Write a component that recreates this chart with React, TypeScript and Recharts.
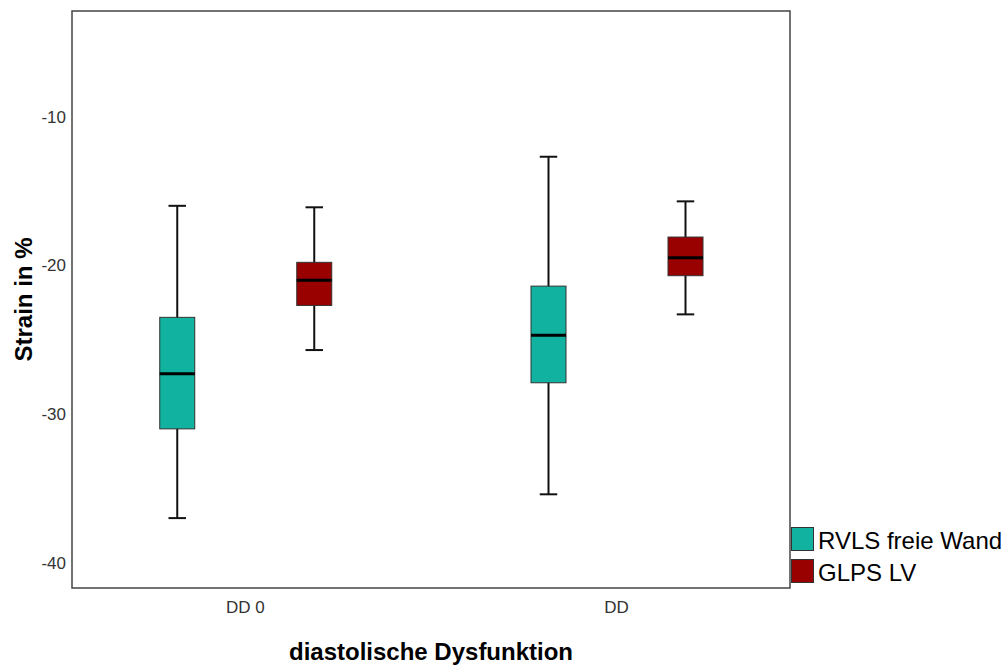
import React from 'react';
import { ComposedChart, Bar, XAxis, YAxis, ReferenceArea, Legend } from 'recharts';

const categories = ['DD 0', 'DD'];
const positions = [1, 2];
const seriesNames = ['RVLS freie Wand', 'GLPS LV'];

// RVLS freie Wand
const rvlsMin = [-37.0, -35.4];
const rvlsQ1 = [-31.0, -27.9];
const rvlsMedian = [-27.3, -24.7];
const rvlsQ3 = [-23.5, -21.4];
const rvlsMax = [-16.0, -12.7];

// GLPS LV
const glpsMin = [-25.7, -23.3];
const glpsQ1 = [-22.7, -20.7];
const glpsMedian = [-21.0, -19.5];
const glpsQ3 = [-19.8, -18.1];
const glpsMax = [-16.1, -15.7];

const yTicks = [-40, -30, -20, -10];
const yDomain = [-41.7, -2.9];
const xDomain = [0.533, 2.467];

const data = positions.map((pos, i) => ({
  pos,
  label: categories[i],
  rvls: { min: rvlsMin[i], q1: rvlsQ1[i], median: rvlsMedian[i], q3: rvlsQ3[i], max: rvlsMax[i] },
  glps: { min: glpsMin[i], q1: glpsQ1[i], median: glpsMedian[i], q3: glpsQ3[i], max: glpsMax[i] },
}));

const narrowFont = "'Liberation Sans Narrow', 'Arial Narrow', 'Liberation Sans', Arial, sans-serif";
const mainFont = "'Liberation Sans', Arial, sans-serif";

// box + whiskers; the bar itself spans q1..q3, the rest is placed on the same linear scale
const makeBoxShape = (key: 'rvls' | 'glps') => (props: any) => {
  const { x, y, width, height, payload, fill } = props;
  const s = payload[key];
  const unit = height / (s.q3 - s.q1);
  const toY = (v: number) => y + (s.q3 - v) * unit;
  const cx = x + width / 2;
  const cap = width / 4;
  return (
    <g>
      <line x1={cx} x2={cx} y1={toY(s.max)} y2={toY(s.min)} stroke="#111" strokeWidth={2} />
      <line x1={cx - cap} x2={cx + cap} y1={toY(s.max)} y2={toY(s.max)} stroke="#111" strokeWidth={2} />
      <line x1={cx - cap} x2={cx + cap} y1={toY(s.min)} y2={toY(s.min)} stroke="#111" strokeWidth={2} />
      <rect x={x} y={y} width={width} height={height} fill={fill} stroke="#333" strokeWidth={1} />
      <line x1={x} x2={x + width} y1={toY(s.median)} y2={toY(s.median)} stroke="#000" strokeWidth={3} />
    </g>
  );
};

const renderLegend = (props: any) => {
  const items = [...(props.payload || [])].sort(
    (a: any, b: any) => seriesNames.indexOf(a.value) - seriesNames.indexOf(b.value)
  );
  return (
    <div style={{ fontFamily: mainFont }}>
      {items.map((entry: any) => (
        <div key={entry.value} style={{ display: 'flex', alignItems: 'flex-start', height: 32 }}>
          <span
            style={{
              width: 23,
              height: 24,
              background: entry.color,
              border: '1px solid #333',
              boxSizing: 'border-box',
              marginRight: 4,
              flexShrink: 0,
            }}
          />
          <span style={{ fontSize: 24, lineHeight: '24px', color: '#000', paddingTop: 2, whiteSpace: 'nowrap' }}>
            {entry.value}
          </span>
        </div>
      ))}
    </div>
  );
};

export default function App() {
  return (
    <div style={{ position: 'absolute', left: 0, top: 0, width: 1003, height: 666, background: '#fff' }}>
      <ComposedChart
        width={1003}
        height={666}
        data={data}
        margin={{ top: 11, right: 213, bottom: 0, left: 0 }}
        barSize={35}
        barGap={102}
      >
        <XAxis
          dataKey="pos"
          type="number"
          domain={xDomain}
          ticks={positions}
          tickFormatter={(v: number) => categories[v - 1]}
          axisLine={false}
          tickLine={false}
          tickSize={6}
          tickMargin={7}
          height={78}
          tick={{ fill: '#333', fontSize: 17, fontFamily: narrowFont }}
          label={{
            value: 'diastolische Dysfunktion',
            position: 'insideBottom',
            offset: 6,
            style: { fontWeight: 'bold', fontSize: 24, fill: '#000', fontFamily: mainFont },
          }}
        />
        <YAxis
          type="number"
          domain={yDomain}
          ticks={yTicks}
          width={72}
          axisLine={false}
          tickLine={false}
          tickSize={4}
          tickMargin={2}
          tick={{ fill: '#333', fontSize: 17, fontFamily: narrowFont }}
          label={{
            value: 'Strain in %',
            angle: -90,
            position: 'insideLeft',
            offset: 23,
            style: { textAnchor: 'middle', fontWeight: 'bold', fontSize: 24, fill: '#000', fontFamily: mainFont },
          }}
        />
        <ReferenceArea
          x1={xDomain[0]}
          x2={xDomain[1]}
          y1={yDomain[0]}
          y2={yDomain[1]}
          fill="none"
          fillOpacity={0}
          stroke="#444"
          strokeWidth={1.5}
        />
        <Legend
          layout="vertical"
          align="center"
          verticalAlign="middle"
          content={renderLegend}
          wrapperStyle={{ left: 791, top: 527, width: 212 }}
        />
        <Bar
          name={seriesNames[0]}
          dataKey={(d: any) => [d.rvls.q1, d.rvls.q3]}
          fill="#11B3A0"
          shape={makeBoxShape('rvls')}
          isAnimationActive={false}
        />
        <Bar
          name={seriesNames[1]}
          dataKey={(d: any) => [d.glps.q1, d.glps.q3]}
          fill="#990000"
          shape={makeBoxShape('glps')}
          isAnimationActive={false}
        />
      </ComposedChart>
    </div>
  );
}
